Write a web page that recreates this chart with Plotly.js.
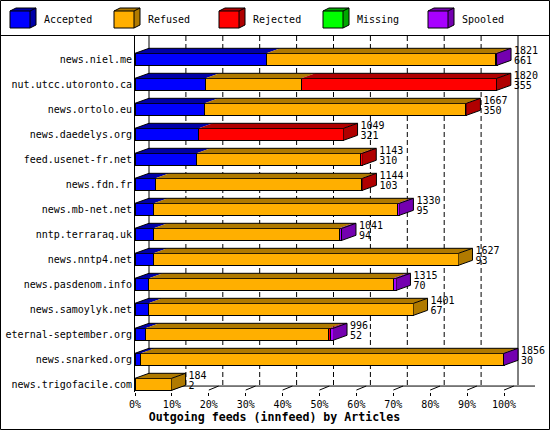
<!DOCTYPE html>
<html>
<head>
<meta charset="utf-8">
<script src="https://cdn.plot.ly/plotly-3.0.1.min.js"></script>
<style>
  html, body { margin: 0; padding: 0; background: #fff; }
  #chart { width: 550px; height: 430px; }
</style>
</head>
<body>
<div id="chart"></div>
<script>
// innfeed outgoing feeds, articles per peer
var hosts = ['news.niel.me', 'nut.utcc.utoronto.ca', 'news.ortolo.eu', 'news.daedelys.org',
  'feed.usenet-fr.net', 'news.fdn.fr', 'news.mb-net.net', 'nntp.terraraq.uk', 'news.nntp4.net',
  'news.pasdenom.info', 'news.samoylyk.net', 'eternal-september.org', 'news.snarked.org',
  'news.trigofacile.com']
var totals   = [1821, 1820, 1667, 1049, 1143, 1144, 1330, 1041, 1627, 1315, 1401, 996, 1856, 184]
var accepted = [661, 355, 350, 321, 310, 103, 95, 94, 93, 70, 67, 52, 30, 2]
var refused  = [1150, 482, 1312, 0, 823, 1037, 1226, 934, 1534, 1230, 1334, 922, 1821, 182]
var rejected = [5, 983, 5, 728, 10, 4, 0, 0, 0, 0, 0, 10, 0, 0]
var missing  = [0, 0, 0, 0, 0, 0, 0, 0, 0, 0, 0, 0, 0, 0]
var spooled  = [5, 0, 0, 0, 0, 0, 9, 13, 0, 15, 0, 12, 5, 0]

var names = ['Accepted', 'Refused', 'Rejected', 'Missing', 'Spooled']
var series = [accepted, refused, rejected, missing, spooled]
var front = ['#0000ff', '#ffaf00', '#ff0000', '#00ff00', '#a800ff']
var dark  = ['#0000a8', '#b07a00', '#b00000', '#00a800', '#7400b0']

var pctTicks = [0, 10, 20, 30, 40, 50, 60, 70, 80, 90, 100]

// pixel frame of the plot area
var L = 135, R = 545, T = 36, B = 392
var PXU = (R - L) / 111.111        // px per percent
var DX = 14 / PXU                  // depth offset in percent
var DY = 0.2                       // depth offset in rows
var HW = 0.24                      // half front height in rows
var yTop = (T - 59.3) / 25, yBot = (B - 59.3) / 25
function PX(p) { return (p - L) / (R - L) }
function PY(p) { return (B - p) / (B - T) }

var maxT = Math.max.apply(null, totals)
var rows = hosts.map(function (h, i) { return i })
function pct(v) { return v / maxT * 100 }

var data = []

// front faces
for (var s = 0; s < series.length; s++) {
  data.push({
    type: 'bar', orientation: 'h', name: names[s],
    y: rows, x: series[s].map(pct), width: 2 * HW,
    marker: {color: front[s], line: {color: '#000', width: 1}},
    showlegend: false, hoverinfo: 'skip'
  })
}

// top faces per segment, side face of the last segment
var topX = series.map(function () { return [] })
var topY = series.map(function () { return [] })
var sideX = series.map(function () { return [] })
var sideY = series.map(function () { return [] })
var olX = [], olY = []
var endX = []
for (var i = 0; i < hosts.length; i++) {
  var a = 0, last = 0
  var ft = i - HW, fb = i + HW, bt = ft - DY, bb = fb - DY
  for (var s = 0; s < series.length; s++) {
    var v = pct(series[s][i])
    if (v <= 0) continue
    var b = a + v
    topX[s].push(a, b, b + DX, a + DX, a, null)
    topY[s].push(ft, ft, bt, bt, ft, null)
    a = b
    last = s
  }
  sideX[last].push(a, a + DX, a + DX, a, a, null)
  sideY[last].push(ft, bt, bb, fb, ft, null)
  olX.push(0, DX, a + DX, a + DX, a, null, a, a + DX, null)
  olY.push(ft, bt, bt, bb, fb, null, ft, bt, null)
  endX.push(a + DX + 3 / PXU)
}
for (var s = 0; s < series.length; s++) {
  data.push({type: 'scatter', mode: 'lines', x: topX[s], y: topY[s], fill: 'toself',
    fillcolor: dark[s], line: {width: 0}, showlegend: false, hoverinfo: 'skip'})
  data.push({type: 'scatter', mode: 'lines', x: sideX[s], y: sideY[s], fill: 'toself',
    fillcolor: dark[s], line: {width: 0}, showlegend: false, hoverinfo: 'skip'})
}
data.push({type: 'scatter', mode: 'lines', x: olX, y: olY,
  line: {color: '#000', width: 1}, showlegend: false, hoverinfo: 'skip'})

// value labels: total and accepted
var font = {family: 'DejaVu Sans Mono', size: 10, color: '#000'}
data.push({type: 'scatter', mode: 'text', x: endX, y: rows.map(function (i) { return i - 0.33 }),
  text: totals.map(String), textposition: 'middle right', textfont: font,
  cliponaxis: false, showlegend: false, hoverinfo: 'skip'})
data.push({type: 'scatter', mode: 'text', x: endX, y: rows.map(function (i) { return i + 0.09 }),
  text: accepted.map(String), textposition: 'middle right', textfont: font,
  cliponaxis: false, showlegend: false, hoverinfo: 'skip'})

var shapes = []
// back wall grid
pctTicks.forEach(function (t) {
  var solid = (t === 0 || t === 100)
  shapes.push({type: 'line', xref: 'x', yref: 'y', x0: t + DX, x1: t + DX, y0: yTop, y1: 13.03,
    line: {color: '#000', width: 1, dash: solid ? 'solid' : '5px,3px'}, layer: 'below'})
  if (t > 0) {
    shapes.push({type: 'line', xref: 'x', yref: 'y', x0: t, x1: t + DX * 0.7, y0: 13.23, y1: 13.07,
      line: {color: '#000', width: 1}, layer: 'below'})
  }
})
shapes.push({type: 'line', xref: 'x', yref: 'y', x0: 0, x1: 108.4, y0: 13.07, y1: 13.07,
  line: {color: '#000', width: 1}, layer: 'below'})

// frame and legend
shapes.push({type: 'rect', xref: 'paper', yref: 'paper', x0: PX(0.5), x1: PX(549.5), y0: PY(0.5), y1: PY(429.5),
  line: {color: '#000', width: 1}})
shapes.push({type: 'line', xref: 'paper', yref: 'paper', x0: PX(0), x1: PX(550), y0: PY(35.5), y1: PY(35.5),
  line: {color: '#000', width: 1}})

var annotations = []
var legX = [10, 114, 219, 323, 428]
for (var s = 0; s < names.length; s++) {
  var x0 = legX[s]
  shapes.push({type: 'path', xref: 'paper', yref: 'paper', fillcolor: dark[s], line: {color: '#000', width: 1},
    path: 'M' + PX(x0) + ',' + PY(11) + 'L' + PX(x0 + 6) + ',' + PY(8) + 'L' + PX(x0 + 26) + ',' + PY(8) +
      'L' + PX(x0 + 26) + ',' + PY(25) + 'L' + PX(x0 + 20) + ',' + PY(28) + 'Z'})
  shapes.push({type: 'rect', xref: 'paper', yref: 'paper', x0: PX(x0), x1: PX(x0 + 20), y0: PY(28), y1: PY(11),
    fillcolor: front[s], line: {color: '#000', width: 1}})
  shapes.push({type: 'line', xref: 'paper', yref: 'paper', x0: PX(x0 + 20), x1: PX(x0 + 26), y0: PY(11), y1: PY(8),
    line: {color: '#000', width: 1}})
  annotations.push({xref: 'paper', yref: 'paper', x: PX(x0 + 32), y: PY(20), xanchor: 'left', yanchor: 'middle',
    text: names[s], showarrow: false, font: font})
}

var layout = {
  width: 550, height: 430,
  margin: {l: L, r: 550 - R, t: T, b: 430 - B},
  paper_bgcolor: '#fff', plot_bgcolor: '#fff',
  barmode: 'stack', bargap: 0,
  showlegend: false,
  font: font,
  title: {text: '<b>Outgoing feeds (innfeed) by Articles</b>', x: 274.5 / 550, y: 1 - 417 / 430,
    xanchor: 'center', yanchor: 'middle', font: {family: 'DejaVu Sans Mono', size: 11.6, color: '#000'}},
  xaxis: {range: [0, 111.111], tickvals: pctTicks, ticktext: pctTicks.map(function (t) { return t + '%' }),
    ticks: 'outside', ticklen: 3, tickcolor: '#000', showgrid: false, zeroline: false, showline: false,
    tickfont: font, fixedrange: true},
  yaxis: {range: [yBot, yTop], tickvals: rows, ticktext: hosts, ticks: '', showgrid: false, zeroline: false,
    showline: true, linecolor: '#000', linewidth: 1, tickfont: font, fixedrange: true},
  shapes: shapes,
  annotations: annotations
}

Plotly.newPlot('chart', data, layout, {displayModeBar: false, staticPlot: true})
</script>
</body>
</html>
